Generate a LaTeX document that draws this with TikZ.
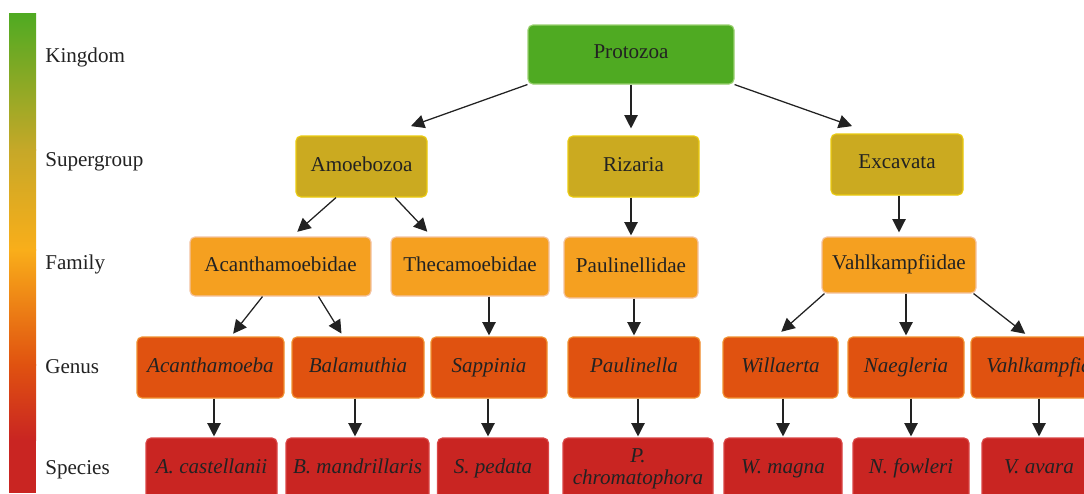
\documentclass[tikz,border=0pt]{standalone}
\usepackage{fontspec}
\setmainfont{Liberation Serif}
\usetikzlibrary{calc,arrows.meta}

\definecolor{kingdomgreen}{HTML}{4FAA22}
\definecolor{kingdomedge}{HTML}{9AD070}
\definecolor{supergold}{HTML}{CBAA20}
\definecolor{superedge}{HTML}{EACB10}
\definecolor{familyorange}{HTML}{F5A020}
\definecolor{familyedge}{HTML}{F3C2A0}
\definecolor{genusorange}{HTML}{E05210}
\definecolor{genusedge}{HTML}{F09030}
\definecolor{speciesred}{HTML}{C92522}
\definecolor{speciesedge}{HTML}{D94545}
\definecolor{olivebar}{HTML}{C6A828}
\definecolor{ambarbar}{HTML}{F9AE1A}
\definecolor{inkgray}{HTML}{222222}

\newcommand{\basefont}{\fontsize{15pt}{16pt}\selectfont}

\begin{document}
\begin{tikzpicture}[x=0.025cm, y=-0.025cm, font=\basefont,
  wh/.style 2 args={minimum width=#1*0.025cm, minimum height=#2*0.025cm},
  taxon/.style={rounded corners=3.5pt, line width=0.8pt, text=inkgray, inner sep=0pt,
    align=center, text depth=3.5pt},
  kingdom/.style={taxon, fill=kingdomgreen, draw=kingdomedge},
  supergroup/.style={taxon, fill=supergold, draw=superedge},
  family/.style={taxon, fill=familyorange, draw=familyedge},
  genus/.style={taxon, fill=genusorange, draw=genusedge, font=\basefont\itshape},
  species/.style={taxon, fill=speciesred, draw=speciesedge, font=\basefont\itshape},
  level/.style={anchor=west, inner sep=0pt, text=inkgray},
  link/.style={-{Triangle[length=9.5pt,width=9.5pt]}, line width=0.9pt, draw=inkgray, shorten >=0.7pt}]

\useasboundingbox (0,0) rectangle (1084,493);
\clip (0,0) rectangle (1084,493);

% ==================== RANK BAR ====================
\shade[top color=kingdomgreen, bottom color=olivebar] (9,13) rectangle (36,150);
\shade[top color=olivebar, bottom color=ambarbar] (9,149.5) rectangle (36,250);
\shade[top color=ambarbar, bottom color=genusorange] (9,249.5) rectangle (36,365);
\shade[top color=genusorange, bottom color=speciesred] (9,364.5) rectangle (36,440);
\fill[speciesred] (9,439.5) rectangle (36,493);

\node[level] (lkingdom) at (45,57) {Kingdom};
\node[level] (lsuper) at (45,162) {Supergroup};
\node[level] (lfamily) at (45,264) {Family};
\node[level] (lgenus) at (45,367) {Genus};
\node[level] (lspecies) at (45,470) {Species};

% ==================== TREE ====================
% Kingdom
\node[kingdom, wh={206}{59}] (proto) at (631,54.5) {Protozoa};

% Supergroups
\node[supergroup, wh={131}{61}] (amoebozoa) at (361.5,166.5) {Amoebozoa};
\node[supergroup, wh={131}{61}] (rizaria) at (633.5,166.5) {Rizaria};
\node[supergroup, wh={132}{61}] (excavata) at (897,164.5) {Excavata};

% Families
\node[family, wh={181}{59}] (acanthamoebidae) at (280.5,266.5) {Acanthamoebidae};
\node[family, wh={158}{59}] (thecamoebidae) at (470,266.5) {Thecamoebidae};
\node[family, wh={134}{61}] (paulinellidae) at (631,267.5) {Paulinellidae};
\node[family, wh={154}{56}] (vahlkampfiidae) at (899,265) {Vahlkampfiidae};

% Genera
\node[genus, wh={147}{61}] (acanthamoeba) at (210.5,367.5) {Acanthamoeba};
\node[genus, wh={132}{61}] (balamuthia) at (358,367.5) {Balamuthia};
\node[genus, wh={116}{61}] (sappinia) at (489,367.5) {Sappinia};
\node[genus, wh={132}{61}] (paulinella) at (634,367.5) {Paulinella};
\node[genus, wh={115}{61}] (willaerta) at (780.5,367.5) {Willaerta};
\node[genus, wh={116}{61}] (naegleria) at (906,367.5) {Naegleria};
\node[genus, wh={136}{61}] (vahlkampfia) at (1039,367.5) {Vahlkampfia};

% Species
\node[species, wh={131}{62}] (castellanii) at (211.5,469) {A. castellanii};
\node[species, wh={143}{62}] (mandrillaris) at (357.5,469) {B. mandrillaris};
\node[species, wh={111}{62}] (pedata) at (493,469) {S. pedata};
\node[species, wh={150}{62}] (chromatophora) at (638,469) {P.\\chromatophora};
\node[species, wh={118}{62}] (magna) at (783,469) {W. magna};
\node[species, wh={116}{62}] (fowleri) at (911,469) {N. fowleri};
\node[species, wh={114}{62}] (avara) at (1039,469) {V. avara};

% Kingdom -> supergroups
\draw[link] (proto.south west) -- ($(amoebozoa.north)+(48.5,-9)$);
\draw[link] (proto.south) -- ($(proto.south |- rizaria.north)+(0,-6)$);
\draw[link] (proto.south east) -- ($(excavata.north)+(-44,-7)$);

% Supergroups -> families
\draw[link] ($(amoebozoa.south)+(-25.5,0)$) -- ($(acanthamoebidae.north)+(16,-4)$);
\draw[link] ($(amoebozoa.south)+(33.5,0)$) -- ($(thecamoebidae.north)+(-42,-4)$);
\draw[link] (paulinellidae.north |- rizaria.south) -- (paulinellidae.north);
\draw[link] (vahlkampfiidae.north |- excavata.south) -- ($(vahlkampfiidae.north)+(0,-3)$);

% Families -> genera
\draw[link] ($(acanthamoebidae.south)+(-18,0)$) -- ($(acanthamoeba.north)+(22,-2)$);
\draw[link] ($(acanthamoebidae.south)+(38,0)$) -- ($(balamuthia.north)+(-16,-2)$);
\draw[link] (sappinia.north |- thecamoebidae.south) -- (sappinia.north);
\draw[link] (paulinella.north |- paulinellidae.south) -- (paulinella.north);
\draw[link] ($(vahlkampfiidae.south west)+(3,0)$) -- ($(willaerta.north)+(0,-4)$);
\draw[link] (naegleria.north |- vahlkampfiidae.south) -- (naegleria.north);
\draw[link] ($(vahlkampfiidae.south east)+(-3,0)$) -- ($(vahlkampfia.north)+(-13,-2)$);

% Genera -> species
\draw[link] ($(castellanii.north |- acanthamoeba.south)+(2.5,0)$) -- ($(castellanii.north)+(2.5,0)$);
\draw[link] ($(mandrillaris.north |- balamuthia.south)+(-2.5,0)$) -- ($(mandrillaris.north)+(-2.5,0)$);
\draw[link] ($(pedata.north |- sappinia.south)+(-5,0)$) -- ($(pedata.north)+(-5,0)$);
\draw[link] (chromatophora.north |- paulinella.south) -- (chromatophora.north);
\draw[link] (magna.north |- willaerta.south) -- (magna.north);
\draw[link] (fowleri.north |- naegleria.south) -- (fowleri.north);
\draw[link] (avara.north |- vahlkampfia.south) -- (avara.north);

\end{tikzpicture}
\end{document}
